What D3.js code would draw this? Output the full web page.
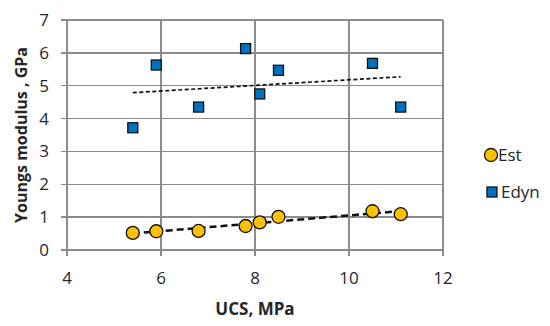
<!DOCTYPE html>
<html>
<head>
<meta charset="utf-8">
<script src="https://cdn.jsdelivr.net/npm/d3@7"></script>
<style>
  body { margin: 0; background: #fff; }
  text { font-family: "Open Sans", "Liberation Sans", sans-serif; }
</style>
</head>
<body>
<div id="chart"></div>
<script>
// UCS (MPa) for each sample
const ucs = [5.4, 5.9, 6.8, 7.8, 8.1, 8.5, 10.5, 11.1];
// static Young's modulus (GPa)
const est = [0.52, 0.57, 0.58, 0.73, 0.84, 1.01, 1.18, 1.09];
// dynamic Young's modulus (GPa)
const edyn = [3.72, 5.63, 4.35, 6.13, 4.75, 5.47, 5.68, 4.35];
const xTicks = [4, 6, 8, 10, 12];
const yTicks = [0, 1, 2, 3, 4, 5, 6, 7];

const width = 550, height = 326;
const margin = { top: 20, right: 107, bottom: 76, left: 67 };

const svg = d3.select('#chart').append('svg')
  .attr('width', width).attr('height', height);

const x = d3.scaleLinear().domain([4, 12]).range([margin.left, width - margin.right]);
const y = d3.scaleLinear().domain([0, 7]).range([height - margin.bottom, margin.top]);

/* ---------------- GRID ---------------- */
const grid = svg.append('g').attr('stroke', '#8c8c8c').attr('stroke-width', 1.5)
  .attr('shape-rendering', 'crispEdges');
grid.selectAll('.hg').data(yTicks).enter().append('line')
  .attr('x1', x(4) - 6).attr('x2', x(12))
  .attr('y1', d => y(d)).attr('y2', d => y(d));
grid.selectAll('.vg').data(xTicks).enter().append('line')
  .attr('x1', d => x(d)).attr('x2', d => x(d))
  .attr('y1', y(7)).attr('y2', y(0) + 6);

/* ---------------- TICK LABELS ---------------- */
svg.append('g').selectAll('text').data(yTicks).enter().append('text')
  .attr('x', x(4) - 18).attr('y', d => y(d)).attr('dy', '0.35em')
  .attr('text-anchor', 'end').attr('font-size', 17).attr('fill', '#262626')
  .text(d => d);
svg.append('g').selectAll('text').data(xTicks).enter().append('text')
  .attr('x', d => x(d)).attr('y', y(0) + 34)
  .attr('text-anchor', 'middle').attr('font-size', 17).attr('fill', '#262626')
  .text(d => d);

/* ---------------- AXIS TITLES ---------------- */
svg.append('text')
  .attr('x', x(8)).attr('y', 315)
  .attr('text-anchor', 'middle').attr('font-size', 17).attr('font-weight', 'bold')
  .attr('fill', '#262626').text('UCS, MPa');
svg.append('text')
  .attr('transform', `translate(27,${(y(0) + y(7)) / 2}) rotate(-90)`)
  .attr('text-anchor', 'middle').attr('font-size', 16).attr('font-weight', 'bold')
  .attr('fill', '#262626').text('Youngs modulus , GPa');

/* ---------------- TRENDLINES ---------------- */
function fit(xs, ys) {
  const mx = d3.mean(xs), my = d3.mean(ys);
  let sxy = 0, sxx = 0;
  xs.forEach((v, i) => { sxy += (v - mx) * (ys[i] - my); sxx += (v - mx) * (v - mx); });
  const b = sxy / sxx;
  return v => my + b * (v - mx);
}
const xExt = d3.extent(ucs);
const fEst = fit(ucs, est), fDyn = fit(ucs, edyn);
svg.append('line')
  .attr('x1', x(xExt[0])).attr('y1', y(fDyn(xExt[0])))
  .attr('x2', x(xExt[1])).attr('y2', y(fDyn(xExt[1])))
  .attr('stroke', '#111').attr('stroke-width', 1.7).attr('stroke-dasharray', '4,2.5');
svg.append('line')
  .attr('x1', x(xExt[0])).attr('y1', y(fEst(xExt[0])))
  .attr('x2', x(xExt[1])).attr('y2', y(fEst(xExt[1])))
  .attr('stroke', '#111').attr('stroke-width', 2.5).attr('stroke-dasharray', '7,4');

/* ---------------- POINTS ---------------- */
svg.append('g').selectAll('rect').data(ucs).enter().append('rect')
  .attr('x', (d, i) => x(d) - 5).attr('y', (d, i) => y(edyn[i]) - 5)
  .attr('width', 10).attr('height', 10)
  .attr('fill', '#0070C0').attr('stroke', '#111').attr('stroke-width', 1.3);
svg.append('g').selectAll('circle').data(ucs).enter().append('circle')
  .attr('cx', d => x(d)).attr('cy', (d, i) => y(est[i])).attr('r', 6.5)
  .attr('fill', '#FFC000').attr('stroke', '#111').attr('stroke-width', 1.3);

/* ---------------- LEGEND ---------------- */
const lg = svg.append('g');
lg.append('circle').attr('cx', 491).attr('cy', 155).attr('r', 6.5)
  .attr('fill', '#FFC000').attr('stroke', '#111').attr('stroke-width', 1.3);
lg.append('text').attr('x', 498).attr('y', 155).attr('dy', '0.35em')
  .attr('font-size', 17).attr('fill', '#262626').text('Est');
lg.append('rect').attr('x', 487).attr('y', 187).attr('width', 10).attr('height', 10)
  .attr('fill', '#0070C0').attr('stroke', '#111').attr('stroke-width', 1.3);
lg.append('text').attr('x', 501).attr('y', 192).attr('dy', '0.35em')
  .attr('font-size', 17).attr('fill', '#262626').text('Edyn');
</script>
</body>
</html>
